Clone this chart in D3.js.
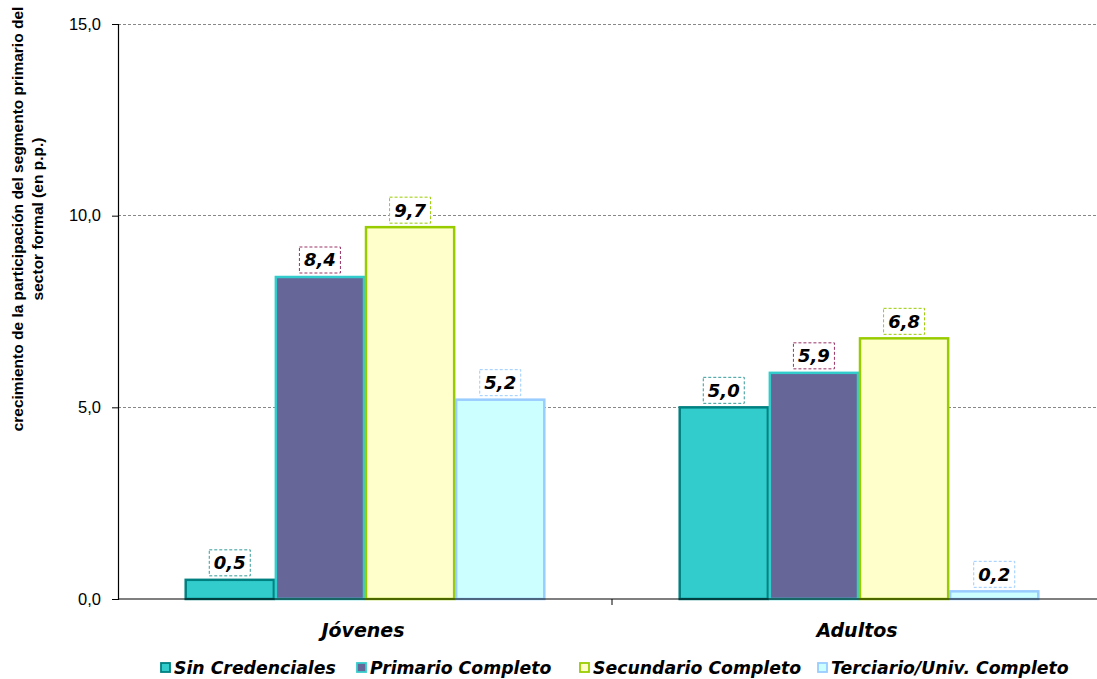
<!DOCTYPE html>
<html>
<head>
<meta charset="utf-8">
<script src="https://cdn.jsdelivr.net/npm/d3@7"></script>
<style>
  html, body { margin: 0; padding: 0; background: #ffffff; }
  svg { display: block; }
</style>
</head>
<body>
<svg id="chart" width="1097" height="679"></svg>
<script>
// Chart data
const groups = ["Jóvenes", "Adultos"];
const seriesNames = ["Sin Credenciales", "Primario Completo", "Secundario Completo", "Terciario/Univ. Completo"];
const jovenes = [0.5, 8.4, 9.7, 5.2];
const adultos = [5.0, 5.9, 6.8, 0.2];
const yTicks = [0, 5, 10, 15];

// Styling per series
const fills = ["#33CCCC", "#666699", "#FFFFCC", "#CCFFFF"];
const strokes = ["#008080", "#33CCCC", "#99CC00", "#99CCFF"];
const labelBorders = ["#339999", "#993366", "#99CC00", "#99CCFF"];

const svg = d3.select("#chart");
const margin = { left: 118, top: 24, right: 1106, bottom: 599 };

const x0 = d3.scaleBand().domain(groups).range([margin.left, margin.right]).paddingInner(0).paddingOuter(0);
const x1 = d3.scaleBand().domain(seriesNames).range([0, x0.bandwidth()]).paddingInner(0).paddingOuter(0.74);
const y = d3.scaleLinear().domain([0, 15]).range([margin.bottom, margin.top]);

const fmt = v => d3.format(".1f")(v).replace(".", ",");

// Gridlines
svg.append("g")
  .selectAll("line")
  .data(yTicks.filter(t => t > 0))
  .join("line")
  .attr("x1", margin.left).attr("x2", 1097)
  .attr("y1", d => y(d)).attr("y2", d => y(d))
  .attr("stroke", "#888888").attr("stroke-width", 1)
  .attr("stroke-dasharray", "3,2")
  .attr("shape-rendering", "crispEdges");

// Bars
const rows = groups.map((g, i) => ({ group: g, values: i === 0 ? jovenes : adultos }));
const gGroups = svg.append("g").selectAll("g")
  .data(rows).join("g")
  .attr("transform", d => `translate(${x0(d.group)},0)`);

gGroups.selectAll("rect")
  .data(d => d.values.map((v, i) => ({ name: seriesNames[i], value: v, i })))
  .join("rect")
  .attr("x", d => x1(d.name) + 1)
  .attr("width", x1.bandwidth() - 2)
  .attr("y", d => y(d.value))
  .attr("height", d => y(0) - y(d.value))
  .attr("fill", d => fills[d.i])
  .attr("stroke", d => strokes[d.i])
  .attr("stroke-width", 2.5);

// Value labels with dashed boxes
const lbl = gGroups.selectAll("g.lbl")
  .data(d => d.values.map((v, i) => ({ name: seriesNames[i], value: v, i })))
  .join("g").attr("class", "lbl")
  .attr("transform", d => `translate(${x1(d.name) + x1.bandwidth() / 2},${y(d.value) - 17})`);

lbl.append("rect")
  .attr("x", -20.5).attr("y", -13).attr("width", 41).attr("height", 26)
  .attr("fill", "#ffffff")
  .attr("stroke", d => labelBorders[d.i])
  .attr("stroke-width", 1)
  .attr("stroke-dasharray", "3,2");

lbl.append("text")
  .attr("text-anchor", "middle")
  .attr("dy", "0.36em")
  .attr("font-family", "DejaVu Sans, Verdana, sans-serif")
  .attr("font-weight", "bold").attr("font-style", "italic")
  .attr("font-size", 18)
  .attr("fill", "#000")
  .text(d => fmt(d.value));

// Y axis
const yAxis = d3.axisLeft(y).tickValues(yTicks).tickFormat(fmt).tickSize(6).tickPadding(11);
const gy = svg.append("g").attr("transform", `translate(${margin.left},0)`).call(yAxis);
gy.select(".domain").attr("stroke", "#000").attr("stroke-width", 1.2);
gy.selectAll(".tick line").attr("stroke", "#000");
gy.selectAll(".tick text")
  .attr("font-family", "Liberation Sans, Arial, sans-serif")
  .attr("font-size", 16.5).attr("fill", "#000");

// X axis baseline with group separator tick
svg.append("line")
  .attr("x1", margin.left).attr("x2", 1097)
  .attr("y1", y(0)).attr("y2", y(0))
  .attr("stroke", "#000").attr("stroke-width", 1.2);
svg.append("line")
  .attr("x1", x0(groups[1])).attr("x2", x0(groups[1]))
  .attr("y1", y(0)).attr("y2", y(0) + 6)
  .attr("stroke", "#000");

svg.append("g").selectAll("text")
  .data(groups).join("text")
  .attr("x", d => x0(d) + x0.bandwidth() / 2 - 2)
  .attr("y", 637)
  .attr("text-anchor", "middle")
  .attr("font-family", "DejaVu Sans, Verdana, sans-serif")
  .attr("font-weight", "bold").attr("font-style", "italic")
  .attr("font-size", 19)
  .text(d => d);

// Y axis title
const yt = svg.append("text")
  .attr("transform", "translate(0,219) rotate(-90)")
  .attr("text-anchor", "middle")
  .attr("font-family", "Liberation Sans, Arial, sans-serif")
  .attr("font-weight", "bold")
  .attr("font-size", 15.5);
yt.append("tspan").attr("x", 0).attr("y", 23).text("crecimiento de la participación del segmento primario del");
yt.append("tspan").attr("x", 0).attr("y", 43).text("sector formal (en p.p.)");

// Legend
const legendX = [161, 357, 580, 818];
const lg = svg.append("g").selectAll("g")
  .data(seriesNames).join("g")
  .attr("transform", (d, i) => `translate(${legendX[i]},668)`);
lg.append("rect")
  .attr("x", 0).attr("y", -5).attr("width", 9).attr("height", 9)
  .attr("fill", (d, i) => fills[i])
  .attr("stroke", (d, i) => strokes[i])
  .attr("stroke-width", 1.8);
lg.append("text")
  .attr("x", 13).attr("y", 0).attr("dy", "0.35em")
  .attr("font-family", "DejaVu Sans, Verdana, sans-serif")
  .attr("font-weight", "bold").attr("font-style", "italic")
  .attr("font-size", 17.3)
  .text(d => d);
</script>
</body>
</html>
